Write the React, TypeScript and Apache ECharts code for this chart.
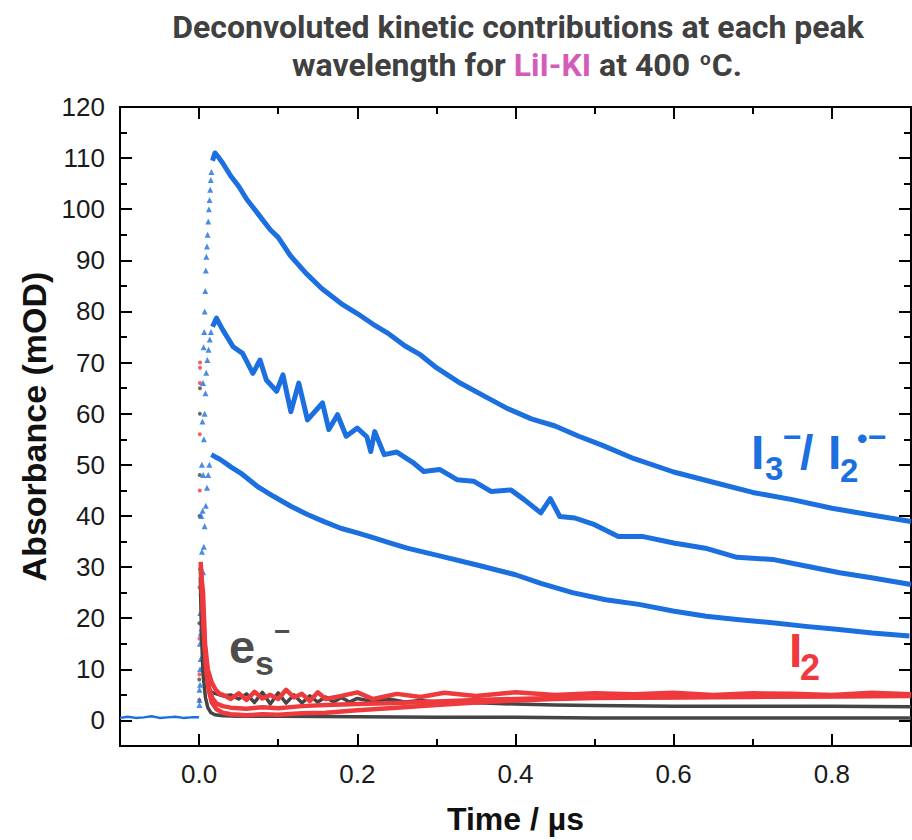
import React, { useEffect, useRef } from 'react';
import * as echarts from 'echarts';

// ---- tick values ----
const xMajorTicks = [0, 0.2, 0.4, 0.6, 0.8];
const xMinorTicks = [0.1, 0.3, 0.5, 0.7];
const yMajorTicks = [0, 10, 20, 30, 40, 50, 60, 70, 80, 90, 100, 110, 120];
const yMinorTicks = [5, 15, 25, 35, 45, 55, 65, 75, 85, 95, 105, 115];

// ---- blue (I3- / I2•-) ----
const baseT = [-0.1, -0.09, -0.08, -0.07, -0.06, -0.05, -0.04, -0.03, -0.02, -0.01, 0];
const baseV = [0.5, 0.7, 0.5, 0.6, 0.8, 0.5, 0.6, 0.7, 0.5, 0.6, 0.6];

const riseAT = [0.0005, 0.001, 0.0015, 0.002, 0.0028, 0.0035, 0.0042, 0.005, 0.0057, 0.0064, 0.0071, 0.0078, 0.0085, 0.0092, 0.01, 0.0108, 0.0116, 0.0124, 0.0132, 0.014, 0.0148, 0.0156];
const riseAV = [6, 15, 21, 30, 40, 50, 58.5, 66, 73, 76, 80, 84, 88, 90.7, 92.7, 95, 97.6, 100, 101.8, 103.8, 105.7, 107.3];
const decayAT = [0.017, 0.02, 0.024, 0.03, 0.04, 0.05, 0.06, 0.075, 0.09, 0.1, 0.115, 0.135, 0.155, 0.18, 0.2, 0.22, 0.24, 0.26, 0.28, 0.3, 0.33, 0.36, 0.39, 0.42, 0.45, 0.48, 0.51, 0.55, 0.6, 0.65, 0.7, 0.75, 0.8, 0.85, 0.9];
const decayAV = [109.5, 111, 110.3, 109, 106.5, 104.5, 102, 99, 96, 94.5, 91, 87.5, 84.5, 81.5, 79.6, 77.5, 75.6, 73.3, 71.5, 69, 66, 63.5, 61, 59, 57.6, 55.6, 53.8, 51.2, 48.6, 46.6, 44.6, 43.2, 41.5, 40.2, 38.9];

const riseBT = [0.0005, 0.0012, 0.002, 0.0028, 0.0036, 0.0044, 0.0052, 0.006, 0.007, 0.008, 0.009, 0.0105, 0.012, 0.0135, 0.015];
const riseBV = [4, 10, 17, 25, 33, 41, 48, 55, 60, 64, 68, 70.5, 72.5, 74.5, 76];
const decayBT = [0.017, 0.022, 0.026, 0.03, 0.043, 0.055, 0.068, 0.077, 0.085, 0.098, 0.106, 0.116, 0.126, 0.137, 0.156, 0.164, 0.175, 0.186, 0.2, 0.212, 0.217, 0.222, 0.234, 0.25, 0.27, 0.284, 0.304, 0.326, 0.347, 0.369, 0.394, 0.411, 0.432, 0.444, 0.456, 0.475, 0.5, 0.53, 0.56, 0.6, 0.64, 0.68, 0.725, 0.767, 0.81, 0.85, 0.9];
const decayBV = [77, 78.7, 77.5, 76.4, 73.1, 71.8, 67.9, 70.5, 66.6, 64.4, 67.6, 60.4, 66, 58.8, 62.1, 56.9, 59.8, 55.6, 57.2, 55.5, 52.6, 56.5, 52, 52.5, 50.5, 48.7, 49.1, 47.1, 46.8, 44.8, 45.1, 43.2, 40.6, 43.4, 39.9, 39.6, 38.3, 36, 36, 34.7, 33.7, 31.9, 31.5, 30.2, 28.9, 27.9, 26.6];

const riseCT = [0.0005, 0.0012, 0.002, 0.003, 0.004, 0.005, 0.006, 0.007, 0.0085, 0.01, 0.0115, 0.013];
const riseCV = [3, 7, 12, 18, 24, 29, 34, 38, 42, 45.5, 48, 50];
const decayCT = [0.0155, 0.02, 0.025, 0.03, 0.04, 0.0525, 0.0735, 0.0945, 0.116, 0.137, 0.158, 0.179, 0.2, 0.221, 0.242, 0.263, 0.304, 0.354, 0.4, 0.432, 0.472, 0.514, 0.556, 0.599, 0.641, 0.683, 0.725, 0.767, 0.809, 0.851, 0.898];
const decayCV = [52, 51.6, 51.2, 50.7, 49.6, 48.4, 45.8, 43.8, 41.9, 40.3, 38.9, 37.6, 36.7, 35.7, 34.7, 33.7, 32.2, 30.3, 28.5, 26.8, 25, 23.6, 22.7, 21.4, 20.4, 19.7, 19.1, 18.4, 17.8, 17.1, 16.5];

// ---- red (I2) ----
const redRiseT = [0.0002, 0.0004, 0.0005, 0.0006, 0.0008, 0.0009, 0.001, 0.0011, 0.0012];
const redRiseV = [4, 9, 16, 26, 45, 56, 66, 69, 70];
const red1T = [0.002, 0.003, 0.005, 0.0075, 0.011, 0.016, 0.021, 0.026, 0.0305, 0.04, 0.05, 0.06, 0.07, 0.08, 0.09, 0.1, 0.11, 0.12, 0.13, 0.14, 0.15, 0.16, 0.18, 0.2, 0.22, 0.25, 0.28, 0.31, 0.35, 0.4, 0.45, 0.5, 0.55, 0.6, 0.65, 0.7, 0.75, 0.8, 0.85, 0.9];
const red1V = [31, 28, 25, 15, 10, 7.4, 6, 5.2, 5, 4.2, 5.3, 4, 5.6, 4.3, 5, 4.2, 6, 4.5, 5.2, 3.8, 5.5, 4.2, 4.8, 5.5, 4.2, 5.2, 4.6, 5.4, 4.8, 5.5, 5, 5.3, 5.1, 5.4, 5, 5.3, 5.2, 5, 5.4, 5.1];
const red2T = [0.0025, 0.004, 0.006, 0.009, 0.012, 0.016, 0.022, 0.03, 0.04, 0.06, 0.08, 0.1, 0.13, 0.16, 0.2, 0.25, 0.3, 0.35, 0.4, 0.45, 0.5, 0.6, 0.7, 0.8, 0.9];
const red2V = [29, 24, 17, 10, 6, 3.5, 2.2, 1.5, 1.2, 1, 1.2, 1.1, 1.4, 1.5, 2, 2.5, 3, 3.5, 3.9, 4.2, 4.4, 4.5, 4.6, 4.7, 4.8];
const red3T = [0.003, 0.005, 0.007, 0.01, 0.013, 0.017, 0.022, 0.03, 0.04, 0.06, 0.08, 0.1, 0.13, 0.16, 0.2, 0.25, 0.3, 0.35, 0.4, 0.45, 0.5, 0.6, 0.7, 0.8, 0.9];
const red3V = [27, 21, 15, 9, 6, 4.3, 3.3, 2.8, 2.5, 2.3, 2.6, 2.4, 2.8, 3, 3.2, 3.4, 3.7, 4, 4.2, 4.4, 4.5, 4.6, 4.7, 4.8, 4.9];

// ---- grey (e_s-) ----
const greyRiseT = [0.0002, 0.0004, 0.0006, 0.0008, 0.001, 0.0011];
const greyRiseV = [8, 19, 40, 48, 60, 65];
const grey1T = [0.0015, 0.004, 0.006, 0.009, 0.012, 0.016, 0.022, 0.03, 0.04, 0.05, 0.06, 0.07, 0.08, 0.09, 0.1, 0.11, 0.12, 0.13, 0.14, 0.15, 0.16, 0.17, 0.18, 0.19, 0.2, 0.22, 0.24, 0.26, 0.28, 0.3, 0.33, 0.36, 0.4, 0.45, 0.5, 0.6, 0.7, 0.8, 0.9];
const grey1V = [30, 20, 13, 8.5, 6.5, 5.5, 5.2, 4.8, 5, 4.2, 5.2, 3.5, 5.5, 3.2, 5.4, 3.4, 5, 3.4, 4.8, 3.6, 4.6, 3.6, 4.5, 3.6, 4.3, 3.7, 4.2, 3.6, 3.9, 3.6, 3.5, 3.4, 3.2, 3, 2.9, 2.8, 2.8, 2.8, 2.7];
const grey2T = [0.0015, 0.003, 0.005, 0.008, 0.011, 0.015, 0.02, 0.03, 0.05, 0.1, 0.2, 0.3, 0.4, 0.5, 0.6, 0.7, 0.8, 0.9];
const grey2V = [28, 17, 9, 4.5, 2.5, 1.5, 1.1, 0.9, 0.8, 0.8, 0.7, 0.6, 0.6, 0.5, 0.5, 0.5, 0.5, 0.5];

const BLUE = '#1b6fdf';
const RED = '#ee3a3d';
const GREY = '#454545';

const pairs = (t: number[], v: number[]) => t.map((x, i) => [x, v[i]]);

const lineS = (t: number[], v: number[], color: string, width: number) => ({
  type: 'line',
  data: pairs(t, v),
  showSymbol: false,
  silent: true,
  lineStyle: { color, width, join: 'round' },
  itemStyle: { color },
});
const dotS = (t: number[], v: number[], color: string, symbol: string, size: number) => ({
  type: 'scatter',
  data: pairs(t, v),
  symbol,
  symbolSize: size,
  silent: true,
  itemStyle: { color },
});

const TICK_FONT = 'Liberation Sans';

const tickAxis = (pos: string, values: number[], len: number, isX: boolean, extra: any = {}) => ({
  type: 'value',
  position: pos,
  min: isX ? -0.1 : -5,
  max: isX ? 0.9 : 120,
  axisLine: { show: false, onZero: false },
  splitLine: { show: false },
  axisTick: { show: true, inside: true, length: len, customValues: values, lineStyle: { color: '#000', width: 2 } },
  axisLabel: { show: false },
  ...extra,
});

const TITLE_FONT = 'Roboto';

export default function App() {
  const ref = useRef<HTMLDivElement>(null);
  useEffect(() => {
    if (!ref.current) return;
    const chart = echarts.init(ref.current, null, { renderer: 'svg' });
    const option: any = {
      animation: false,
      backgroundColor: '#fff',
      grid: { left: 120, top: 107, right: 1, bottom: 93, show: true, borderColor: '#000', borderWidth: 2, backgroundColor: 'transparent' },
      xAxis: [
        tickAxis('bottom', xMajorTicks, 12, true, {
          axisLabel: {
            show: true, customValues: xMajorTicks, formatter: (v: number) => v.toFixed(1),
            fontSize: 26, fontFamily: TICK_FONT, color: '#1a1a1a', margin: 15,
          },
          name: 'Time / µs', nameLocation: 'middle', nameGap: 57,
          nameTextStyle: { fontSize: 32, fontWeight: 'bold', fontFamily: TICK_FONT, color: '#111' },
        }),
        tickAxis('bottom', xMinorTicks, 7, true),
        tickAxis('top', xMajorTicks, 12, true),
        tickAxis('top', xMinorTicks, 7, true),
      ],
      yAxis: [
        tickAxis('left', yMajorTicks, 12, false, {
          axisLabel: {
            show: true, customValues: yMajorTicks,
            fontSize: 26, fontFamily: TICK_FONT, color: '#1a1a1a', margin: 15,
          },
          name: 'Absorbance (mOD)', nameLocation: 'middle', nameGap: 66, nameRotate: 90,
          nameTextStyle: { fontSize: 34, fontWeight: 'bold', fontFamily: TICK_FONT, color: '#111' },
        }),
        tickAxis('left', yMinorTicks, 7, false),
        tickAxis('right', yMajorTicks, 12, false),
        tickAxis('right', yMinorTicks, 7, false),
      ],
      series: [
        lineS(grey2T, grey2V, GREY, 3.5),
        lineS(grey1T, grey1V, GREY, 3.5),
        dotS(greyRiseT, greyRiseV, GREY, 'circle', 4),
        lineS(red2T, red2V, RED, 4.5),
        lineS(red3T, red3V, RED, 4.5),
        lineS(red1T, red1V, RED, 4.5),
        dotS(redRiseT, redRiseV, RED, 'circle', 4),
        lineS(baseT, baseV, BLUE, 2.5),
        dotS(riseAT, riseAV, BLUE, 'triangle', 6),
        dotS(riseBT, riseBV, BLUE, 'triangle', 6),
        dotS(riseCT, riseCV, BLUE, 'triangle', 6),
        lineS(decayAT, decayAV, BLUE, 5),
        lineS(decayBT, decayBV, BLUE, 5),
        lineS(decayCT, decayCV, BLUE, 5),
      ],
      graphic: [
        {
          type: 'text', x: 518, y: 27,
          style: {
            text: 'Deconvoluted kinetic contributions at each peak',
            fontSize: 32, fontWeight: 'bold', fontFamily: TITLE_FONT, fill: '#404040',
            align: 'center', verticalAlign: 'middle',
          },
        },
        {
          type: 'text', x: 517, y: 65,
          style: {
            text: '{a|wavelength for }{p|LiI-KI}{a| at 400 }{s|o}{a|C.}',
            align: 'center', verticalAlign: 'middle',
            rich: {
              a: { fontSize: 32, fontWeight: 'bold', fontFamily: TITLE_FONT, fill: '#404040' },
              p: { fontSize: 32, fontWeight: 'bold', fontFamily: TITLE_FONT, fill: '#d45cb9' },
              s: { fontSize: 19, fontWeight: 'bold', fontFamily: TITLE_FONT, fill: '#404040', padding: [0, 1, 14, 2] },
            },
          },
        },
        // I3- / I2•- label
        { type: 'text', x: 751, y: 452, style: { text: 'I', fontSize: 48, fontWeight: 'bold', fontFamily: TICK_FONT, fill: BLUE, verticalAlign: 'middle' } },
        { type: 'text', x: 765, y: 468, style: { text: '3', fontSize: 33, fontWeight: 'bold', fontFamily: TICK_FONT, fill: BLUE, verticalAlign: 'middle' } },
        { type: 'text', x: 783, y: 437, style: { text: '−', fontSize: 32, fontWeight: 'bold', fontFamily: TICK_FONT, fill: BLUE, verticalAlign: 'middle' } },
        { type: 'text', x: 800, y: 452, style: { text: '/', fontSize: 48, fontWeight: 'bold', fontFamily: TICK_FONT, fill: BLUE, verticalAlign: 'middle' } },
        { type: 'text', x: 828, y: 452, style: { text: 'I', fontSize: 48, fontWeight: 'bold', fontFamily: TICK_FONT, fill: BLUE, verticalAlign: 'middle' } },
        { type: 'text', x: 840, y: 470, style: { text: '2', fontSize: 33, fontWeight: 'bold', fontFamily: TICK_FONT, fill: BLUE, verticalAlign: 'middle' } },
        { type: 'text', x: 857, y: 438, style: { text: '•', fontSize: 30, fontWeight: 'bold', fontFamily: TICK_FONT, fill: BLUE, verticalAlign: 'middle' } },
        { type: 'text', x: 868, y: 437, style: { text: '−', fontSize: 32, fontWeight: 'bold', fontFamily: TICK_FONT, fill: BLUE, verticalAlign: 'middle' } },
        // I2 label
        { type: 'text', x: 789, y: 650, style: { text: 'I', fontSize: 48, fontWeight: 'bold', fontFamily: TICK_FONT, fill: RED, verticalAlign: 'middle' } },
        { type: 'text', x: 800, y: 667, style: { text: '2', fontSize: 36, fontWeight: 'bold', fontFamily: TICK_FONT, fill: RED, verticalAlign: 'middle' } },
        // e_s- label
        { type: 'text', x: 229, y: 646, style: { text: 'e', fontSize: 47, fontWeight: 'bold', fontFamily: TICK_FONT, fill: '#4d4d4d', verticalAlign: 'middle' } },
        { type: 'text', x: 255, y: 663, style: { text: 's', fontSize: 34, fontWeight: 'bold', fontFamily: TICK_FONT, fill: '#4d4d4d', verticalAlign: 'middle' } },
        { type: 'text', x: 274, y: 631, style: { text: '−', fontSize: 28, fontWeight: 'bold', fontFamily: TICK_FONT, fill: '#4d4d4d', verticalAlign: 'middle' } },
      ],
    };
    chart.setOption(option);
    return () => chart.dispose();
  }, []);
  return (
    <div
      ref={ref}
      style={{ position: 'absolute', left: 0, top: 0, width: 912, height: 840, background: '#fff' }}
    />
  );
}
